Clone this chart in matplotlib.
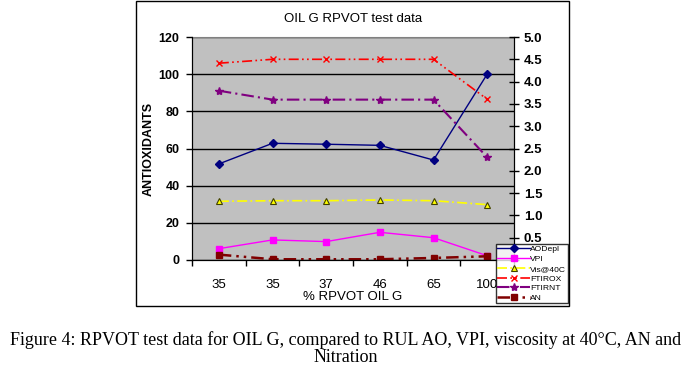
import numpy as np
import matplotlib
matplotlib.use("Agg")
import matplotlib.pyplot as plt
from matplotlib.patches import Rectangle

plt.rcParams["font.family"] = ["Liberation Sans", "DejaVu Sans"]

# ------------------------------------------------------------------ data
categories = ["35", "35", "37", "46", "65", "100"]
ao_depl = [51.7, 62.8, 62.3, 61.7, 53.8, 100.0]
vpi = [6.1, 10.8, 9.9, 14.9, 12.0, 2.3]
vis40 = [31.6, 31.9, 31.9, 32.3, 31.9, 29.8]
ftir_ox = [105.9, 108.0, 108.0, 108.0, 108.0, 86.5]
ftir_nt = [91.1, 86.3, 86.3, 86.3, 86.3, 55.3]
an = [2.9, 0.4, 0.4, 0.4, 1.1, 2.0]

left_ticks = [0, 20, 40, 60, 80, 100, 120]
right_ticks = [0.0, 0.5, 1.0, 1.5, 2.0, 2.5, 3.0, 3.5, 4.0, 4.5, 5.0]

# ---------------------------------------------------------------- figure
W, H = 692, 379
fig = plt.figure(figsize=(W / 100, H / 100), dpi=100)

# outer chart frame
fig.patches.append(Rectangle((136 / W, 1 - 306 / H), 433 / W, 305 / H,
                             transform=fig.transFigure, fill=False,
                             edgecolor="black", linewidth=1.0, zorder=0))

ax = fig.add_axes([192 / W, 1 - 260 / H, 322 / W, 223 / H])
ax.set_facecolor("#c0c0c0")
x = np.arange(len(categories))

ax.plot(x, ao_depl, color="#000080", lw=1.0, marker="D", ms=4,
        label="AODepl")
ax.plot(x, vpi, color="#ff00ff", lw=1.0, marker="s", ms=5, label="VPI")
ax.plot(x, vis40, color="#ffff00", lw=1.2, ls=(0, (6, 2, 1, 2)),
        marker="^", ms=4, mfc="#ffff00", mec="#404000", mew=0.8,
        label="Vis@40C")
ax.plot(x, ftir_ox, color="#ff0000", lw=1.2, ls=(0, (6, 2, 1, 2, 1, 2)),
        marker="x", ms=5, mew=1.0, label="FTIROX")
ax.plot(x, ftir_nt, color="#800080", lw=1.5, ls=(0, (6, 2, 1, 2)),
        marker="*", ms=6, mec="#800080", label="FTIRNT")
ax.plot(x, an, color="#800000", lw=1.8, ls=(0, (5, 2, 1, 2, 1, 2)),
        marker="s", ms=4, label="AN")

ax.set_ylim(0, 120)
ax.set_yticks(left_ticks)
ax.yaxis.grid(True, color="black", lw=1.0)
ax.set_axisbelow(True)
ax.tick_params(axis="y", direction="out", length=4, width=1,
               labelsize=9, pad=5)
for t in ax.get_yticklabels():
    t.set_fontweight("bold")
ax.set_ylabel("ANTIOXIDANTS", fontsize=9, fontweight="bold", va="center")
ax.yaxis.set_label_coords(-0.135, 0.5)

ax.set_xlim(-0.5, len(categories) - 0.5)
ax.set_xticks(np.arange(-0.5, len(categories), 1.0))
ax.set_xticklabels([])
ax.set_xticks(x, minor=True)
ax.set_xticklabels(categories, minor=True)
ax.tick_params(axis="x", which="major", direction="out", length=4, width=1)
ax.tick_params(axis="x", which="minor", length=0, labelsize=9.5, pad=14)
ax.set_xlabel("% RPVOT OIL G", fontsize=9.5, labelpad=0)

for s in ("left", "bottom", "right"):
    ax.spines[s].set_color("black")
ax.spines["top"].set_color("#808080")

ax2 = ax.twinx()
ax2.set_ylim(0, 5)
ax2.set_yticks(right_ticks)
# the 0.0 label sits behind the legend in the original
ax2.set_yticklabels(["" if v == 0 else f"{v:.1f}" for v in right_ticks])
ax2.tick_params(axis="y", direction="inout", length=7, width=1,
                labelsize=9.5)
for t in ax2.get_yticklabels():
    t.set_fontweight("bold")
ax2.spines["top"].set_visible(False)

ax.set_title("OIL G RPVOT test data", fontsize=9.5, pad=11)

handles, labels = ax.get_legend_handles_labels()
leg = fig.legend(handles, labels, loc="upper left",
                 bbox_to_anchor=(496 / W, 1 - 244 / H), fontsize=6.1,
                 frameon=True, fancybox=False, handlelength=3.9,
                 handletextpad=0.0, borderpad=0.15, labelspacing=0.22,
                 borderaxespad=0)
leg.get_frame().set_edgecolor("black")
leg.get_frame().set_linewidth(1.0)
leg.set_zorder(10)

fig.text(0.5, 1 - 345 / H,
         "Figure 4: RPVOT test data for OIL G, compared to RUL AO, VPI, "
         "viscosity at 40\u00b0C, AN and",
         ha="center", va="baseline", fontsize=13, family="Liberation Serif")
fig.text(0.5, 1 - 361.5 / H, "Nitration", ha="center", va="baseline",
         fontsize=13, family="Liberation Serif")

fig.savefig("out.png", dpi=100)
